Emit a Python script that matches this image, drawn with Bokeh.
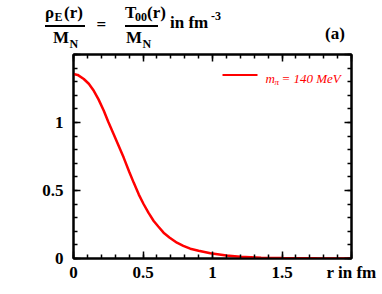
from bokeh.plotting import figure
from bokeh.models import Range1d, LinearAxis, SingleIntervalTicker, Label, BoxAnnotation, Div
from bokeh.layouts import column
from bokeh.embed import file_html
from bokeh.resources import INLINE

# data
r_fm = [0.0, 0.03, 0.074, 0.11, 0.146, 0.18, 0.218, 0.25, 0.289, 0.32, 0.361, 0.40,
        0.433, 0.47, 0.505, 0.54, 0.577, 0.61, 0.648, 0.69, 0.744, 0.79, 0.84, 0.90,
        0.985, 1.1, 1.2, 1.35, 1.5, 1.75, 2.0]
rho_E = [1.356, 1.350, 1.320, 1.285, 1.233, 1.170, 1.086, 1.005, 0.914, 0.840, 0.742, 0.640,
         0.558, 0.470, 0.399, 0.335, 0.276, 0.235, 0.190, 0.155, 0.116, 0.093, 0.072, 0.057,
         0.038, 0.022, 0.013, 0.006, 0.003, 0.001, 0.0005]
x_ticks = [0, 0.5, 1, 1.5, 2]
x_labels = ["0", "0.5", "1", "1.5", "r in fm"]
y_ticks = [0, 0.5, 1, 1.5]
y_labels = ["0", "0.5", "1", ""]
legend_text = "140 MeV"

FONT = "Liberation Serif"

W = 382
DH = 48           # height of title div
H = 294 - DH
FL, FT, FR, FB = 73, 54, 351, 258  # frame in page px

# ---------- title (HTML) ----------
def span(text, left, base, size, extra=""):
    top = base - 0.8375 * size
    return (f'<span style="position:absolute;left:{left}px;top:{top:.1f}px;'
            f'font-size:{size}px;line-height:{size}px;white-space:nowrap;{extra}">{text}</span>')

def bar(left, right, top):
    return (f'<span style="position:absolute;left:{left}px;top:{top}px;width:{right-left}px;'
            f'height:1.6px;background:black;"></span>')

parts = [
    span("ρ", 45, 18, 17), span("E", 54.5, 21, 12), span("(r)", 64, 18, 17),
    bar(45, 85, 25),
    span("M", 53, 43, 17), span("N", 69.5, 48, 12),
    span("=", 96.5, 30, 17),
    span("T", 125, 18, 17), span("00", 135, 21, 12), span("(r)", 147, 18, 17),
    bar(125, 158, 25),
    span("M", 126, 43, 17), span("N", 142.5, 48, 12),
    span("in fm", 170, 28.5, 17), span("-3", 211, 20, 12),
    span("(a)", 325, 39.5, 17),
]
title_html = (f'<div style="position:relative;width:{W}px;height:{DH}px;'
              f'font-family:\'{FONT}\';font-weight:bold;color:black;">' + "".join(parts) + '</div>')
div = Div(text=title_html, width=W, height=DH, margin=0)

# ---------- plot ----------
p = figure(width=W, height=H, output_backend="svg", toolbar_location=None,
           x_range=Range1d(0, 2), y_range=Range1d(0, 1.5),
           min_border_left=FL, min_border_top=FT - DH,
           min_border_right=W - FR, min_border_bottom=H - (FB - DH),
           margin=0)
p.xgrid.visible = False
p.ygrid.visible = False
p.outline_line_color = "black"
p.outline_line_width = 2
p.background_fill_color = "white"
p.border_fill_color = "white"

def style_axis(ax, labels, ticks, show):
    ax.axis_line_width = 2
    ax.axis_line_color = "black"
    ax.major_tick_in = 7
    ax.major_tick_out = 0
    ax.minor_tick_in = 4
    ax.minor_tick_out = 0
    ax.major_tick_line_width = 1.5
    ax.minor_tick_line_width = 1.5
    if show:
        ax.major_label_overrides = {t: l for t, l in zip(ticks, labels)}
        ax.major_label_text_font = FONT
        ax.major_label_text_font_style = "bold"
        ax.major_label_text_font_size = "17px"
        ax.major_label_text_color = "black"
    else:
        ax.major_label_text_font_size = "0px"
        ax.major_label_text_color = None
        ax.major_label_standoff = 0

p.xaxis.ticker = SingleIntervalTicker(interval=0.5, num_minor_ticks=5)
p.yaxis.ticker = SingleIntervalTicker(interval=0.5, num_minor_ticks=5)
style_axis(p.xaxis[0], x_labels, x_ticks, True)
style_axis(p.yaxis[0], y_labels, y_ticks, True)
p.xaxis.major_label_standoff = 4
p.yaxis.major_label_standoff = 10

top = LinearAxis(ticker=SingleIntervalTicker(interval=0.5, num_minor_ticks=5))
right = LinearAxis(ticker=SingleIntervalTicker(interval=0.5, num_minor_ticks=5))
style_axis(top, None, None, False)
style_axis(right, None, None, False)
p.add_layout(top, "above")
p.add_layout(right, "right")

p.line(r_fm, rho_E, line_color="#ff0000", line_width=2.5)

# legend
def px(xp):
    return (xp - FL) / (FR - FL) * 2.0

def py(yp):
    return (FB - yp) / (FB - FT) * 1.5

p.add_layout(BoxAnnotation(left=px(222), right=px(257), bottom=py(75.5), top=py(73.5),
                           fill_color="#ff0000", fill_alpha=1, line_color=None))

def lab(text, x, y, size, style="italic", color="#ff0000"):
    p.add_layout(Label(x=px(x), y=py(y), text=text, text_font=FONT,
                       text_font_style=style, text_font_size=f"{size}px",
                       text_color=color, text_align="left", text_baseline="alphabetic"))

lab("m", 265, 78, 13)
lab("π", 274, 81, 9)
lab("= " + legend_text, 281, 78, 13)

layout = column(div, p, spacing=0, margin=0)
open("out.html", "w").write(file_html(layout, INLINE))
